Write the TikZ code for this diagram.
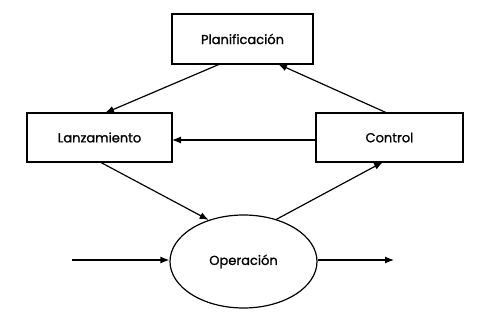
\documentclass[tikz,border=0pt]{standalone}
\usepackage{fontspec}
\setmainfont{Poppins}
\newfontfamily\lblfont{Poppins}[FakeBold=1.2]
\usetikzlibrary{arrows.meta,shapes.geometric}
\begin{document}
\begin{tikzpicture}[x=1pt,y=-1pt,
  box/.style={draw,line width=1.2pt,rectangle,inner sep=0pt},
  lbl/.style={font=\lblfont\fontsize{13}{15}\selectfont},
  arr/.style={line width=1.2pt,-{Latex[length=9pt,width=7pt]}}]
\useasboundingbox (0,0) rectangle (479,315);
\draw[box] (172,14) rectangle (313,64);
\node[lbl] (p) at (242.5,39) {Planificación};
\coordinate (pb1) at (220,64);
\coordinate (pb2) at (278,64);
\draw[box] (27,113) rectangle (172,162);
\node[lbl] (l) at (99.5,137.5) {Lanzamiento};
\draw[box] (316,113) rectangle (463,162);
\node[lbl] (c) at (389.5,137.5) {Control};
\node[draw,line width=1.2pt,ellipse,minimum width=147pt,minimum height=93pt,inner sep=0pt] (o) at (243.5,261.5) {};
\node[lbl] at (o.center) {Operación};
\coordinate (lt) at (105,113);
\coordinate (lr) at (172,140);
\coordinate (lb) at (100,162);
\coordinate (ct) at (387,113);
\coordinate (cl) at (316,140);
\coordinate (cb) at (383,162);
\coordinate (in) at (72,260);
\coordinate (out) at (394,260);
\draw[arr] (pb1) -- (lt);
\draw[arr] (ct) -- (pb2);
\draw[arr] (cl) -- (lr);
\draw[arr] (lb) -- (o.130);
\draw[arr] (o.52) -- (cb);
\draw[arr] (in) -- (o.west |- in);
\draw[arr] (o.east |- out) -- (out);
\end{tikzpicture}
\end{document}
